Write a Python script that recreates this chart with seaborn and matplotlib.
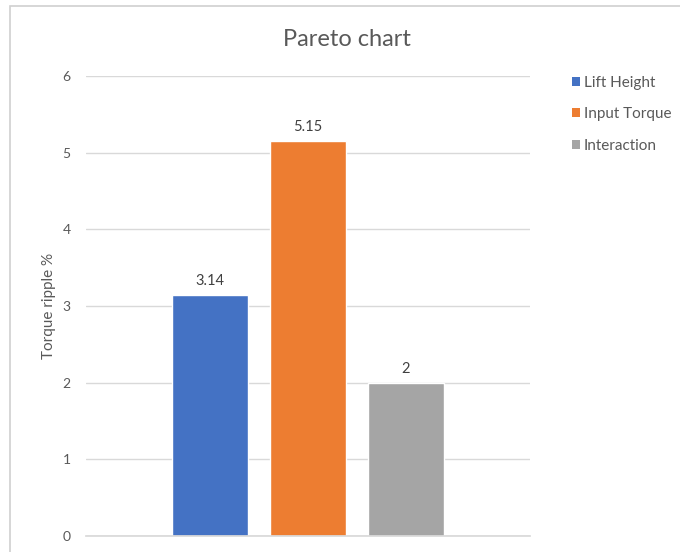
import matplotlib
matplotlib.use("Agg")
import matplotlib.pyplot as plt
from matplotlib.patches import Patch, Rectangle
import seaborn as sns
import pandas as pd

categories = ["Lift Height", "Input Torque", "Interaction"]
values = [3.14, 5.15, 2]
value_labels = ["3.14", "5.15", "2"]
colors = ["#4472C4", "#ED7D31", "#A5A5A5"]
y_ticks = [0, 1, 2, 3, 4, 5, 6]

sns.set_theme(style="white")
plt.rcParams["font.family"] = ["Lato", "DejaVu Sans"]

text_color = "#595959"
df = pd.DataFrame({"factor": categories, "ripple": values})

fig = plt.figure(figsize=(6.8, 5.52), dpi=100)
fig.patch.set_facecolor("white")
ax = fig.add_axes([0.1265, 0.029, 0.6525, 0.833])

sns.barplot(data=df, x="factor", y="ripple", hue="factor", order=categories,
            hue_order=categories, palette=colors, width=0.78, dodge=False,
            legend=False, ax=ax, saturation=1)

for container, lab in zip(ax.containers, value_labels):
    ax.bar_label(container, labels=[lab], padding=5, fontsize=10.5, color="#404040")

ax.set_ylim(0, 6)
ax.set_xlim(-1.265, 3.265)
ax.set_yticks(y_ticks)
ax.set_yticklabels([str(t) for t in y_ticks], fontsize=10, color=text_color)
ax.tick_params(axis="y", length=0, pad=11)
ax.set_xticks([])
ax.set_xlabel("")
ax.set_ylabel("Torque ripple %", fontsize=11, color=text_color, labelpad=5)
ax.yaxis.grid(True, color="#D9D9D9", linewidth=1)
ax.set_axisbelow(True)
for side in ["top", "right", "left"]:
    ax.spines[side].set_visible(False)
ax.spines["bottom"].set_color("#D9D9D9")

fig.text(0.51, 0.928, "Pareto chart", ha="center", va="center",
         fontsize=17, color=text_color)

handles = [Patch(facecolor=c, edgecolor="none", label=n) for c, n in zip(colors, categories)]
fig.legend(handles=handles, loc="upper left", bbox_to_anchor=(0.832, 0.874),
           frameon=False, fontsize=11, handlelength=0.55, handleheight=0.55,
           handletextpad=0.25, labelspacing=1.15, labelcolor=text_color,
           borderaxespad=0)

fig.add_artist(Rectangle((10 / 680, -0.05), 1.0, 1 - 6 / 552 + 0.05,
                         transform=fig.transFigure, fill=False,
                         edgecolor="#D0D0D0", linewidth=1.2))

fig.savefig("out.png", dpi=100)
